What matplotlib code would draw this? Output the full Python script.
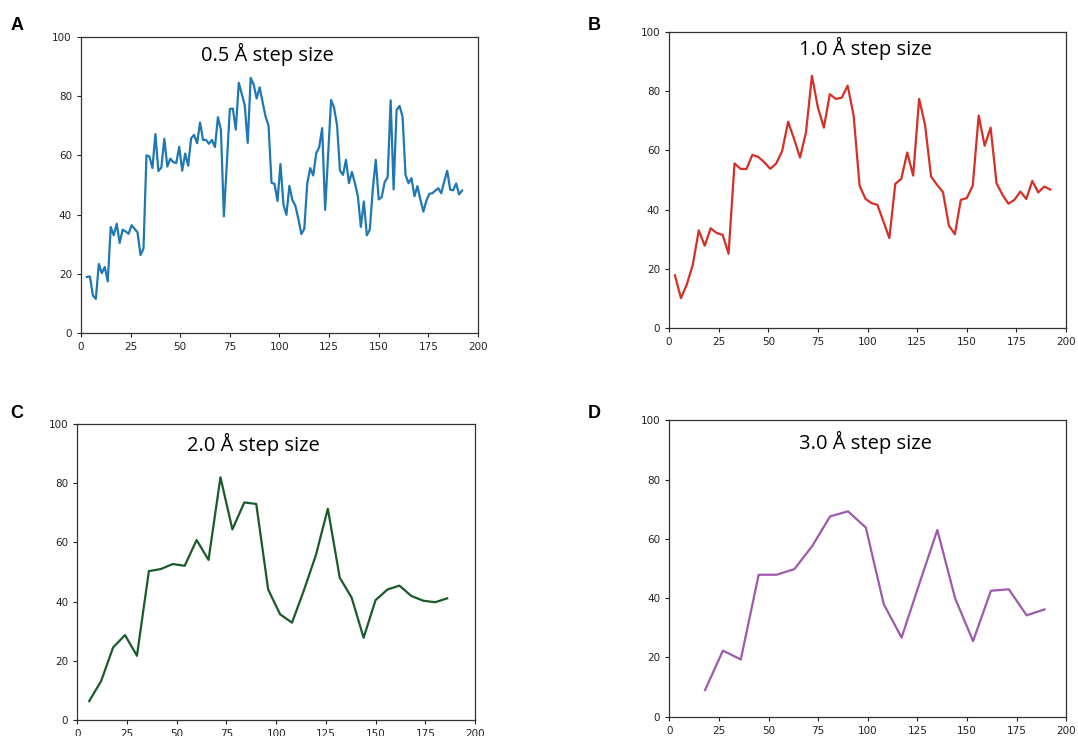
"""
Quatre profils (pas de 0.5, 1.0, 2.0 et 3.0 Å) sur une grille 2x2.
"""
import matplotlib.pyplot as plt
import numpy as np

# pas de 0.5 Å : un point tous les 1.5
x_05 = np.arange(3, 193.5, 1.5)
y_05 = [
    18.9, 19.1, 12.7, 11.5, 23.3, 20.2, 22.3, 17.4, 35.8, 33.0,
    36.9, 30.4, 34.9, 34.3, 33.5, 36.4, 35.2, 34.0, 26.3, 28.5,
    60.0, 59.6, 55.7, 67.2, 54.7, 55.9, 65.6, 56.2, 58.9, 57.7,
    57.4, 62.9, 54.8, 60.6, 56.5, 65.8, 66.9, 64.1, 71.1, 65.2,
    65.2, 63.9, 65.2, 62.8, 72.9, 68.6, 39.4, 57.5, 75.7, 75.8,
    68.7, 84.5, 80.8, 76.9, 64.2, 86.2, 83.9, 79.2, 83.0, 78.0,
    73.1, 70.0, 50.7, 50.4, 44.6, 57.1, 43.4, 39.9, 49.7, 44.9,
    43.0, 38.6, 33.4, 35.2, 50.6, 55.7, 53.2, 60.7, 62.7, 69.2,
    41.6, 60.0, 78.7, 76.1, 70.2, 54.8, 53.4, 58.5, 50.6, 54.4,
    50.6, 46.1, 35.8, 44.4, 33.0, 34.9, 48.5, 58.5, 45.1, 45.9,
    51.0, 52.6, 78.6, 48.5, 75.3, 76.7, 73.0, 53.4, 50.6, 52.3,
    46.2, 49.6, 45.0, 41.0, 44.7, 47.0, 47.2, 48.1, 48.9, 47.2,
    51.2, 54.8, 48.4, 48.2, 50.5, 46.8, 48.1,
]

# pas de 1.0 Å : un point tous les 3
x_10 = np.arange(3, 195, 3)
y_10 = [
    17.8, 10.1, 14.8, 21.4, 33.0, 27.8, 33.7, 32.1, 31.5, 25.1,
    55.6, 53.8, 53.7, 58.5, 57.8, 56.0, 53.8, 55.6, 59.8, 69.7,
    63.9, 57.6, 66.1, 85.2, 74.5, 67.7, 79.0, 77.4, 77.8, 81.9,
    71.8, 48.1, 43.6, 42.2, 41.6, 36.0, 30.4, 48.7, 50.4, 59.3,
    51.5, 77.4, 68.6, 51.2, 48.4, 45.9, 34.6, 31.7, 43.3, 43.9,
    48.1, 71.8, 61.6, 67.7, 48.9, 45.0, 42.0, 43.3, 46.1, 43.6,
    49.7, 45.8, 47.8, 46.8,
]

# pas de 2.0 Å : un point tous les 6
x_20 = np.arange(6, 192, 6)
y_20 = [
    6.4, 13.2, 24.5, 28.7, 21.7, 50.3, 51.0, 52.7, 52.1, 60.8,
    54.1, 82.0, 64.4, 73.5, 73.0, 44.1, 35.7, 32.9, 43.9, 55.7,
    71.4, 48.1, 41.3, 27.8, 40.5, 44.1, 45.4, 41.9, 40.3, 39.8,
    41.1,
]

# pas de 3.0 Å : un point tous les 9
x_30 = np.arange(18, 198, 9)
y_30 = [
    9.0, 22.3, 19.3, 47.9, 47.9, 49.8, 57.6, 67.6, 69.3, 63.8,
    38.0, 26.7, 45.0, 63.0, 39.9, 25.5, 42.5, 43.0, 34.2, 36.2,
]

panels = [
    ("A", "0.5 Å step size", x_05, y_05, "#1f77b4",
     [0.0751, 0.5476, 0.3683, 0.4022], 0.47, 0.94, (17, 25)),
    ("B", "1.0 Å step size", x_10, y_10, "#d62f26",
     [0.6206, 0.5543, 0.3683, 0.4022], 0.496, 0.943, (594, 25)),
    ("C", "2.0 Å step size", x_20, y_20, "#1a5a2c",
     [0.0717, 0.0217, 0.3689, 0.4022], 0.443, 0.93, (17, 414)),
    ("D", "3.0 Å step size", x_30, y_30, "#9e5aab",
     [0.6209, 0.0262, 0.3683, 0.4027], 0.493, 0.925, (594, 414)),
]

W, H = 1078, 736
fig = plt.figure(figsize=(W / 100, H / 100), dpi=100)

for letter, title, x, y, color, rect, tx, ty, (lx, ly) in panels:
    ax = fig.add_axes(rect)
    ax.plot(x, y, color=color, lw=1.6)
    ax.set_xlim(0, 200)
    ax.set_ylim(0, 100)
    ax.set_xticks([0, 25, 50, 75, 100, 125, 150, 175, 200])
    ax.set_yticks([0, 20, 40, 60, 80, 100])
    ax.tick_params(labelsize=7.5, length=3, width=0.8, colors="#222222")
    for spine in ax.spines.values():
        spine.set_color("#333333")
        spine.set_linewidth(0.9)
    ax.text(tx, ty, title, transform=ax.transAxes, ha="center", va="center",
            fontsize=14.5, family="Open Sans", color="black")
    fig.text(lx / W, 1 - ly / H, letter, ha="center", va="center",
             fontsize=13, fontweight="bold", family="Liberation Sans")

fig.savefig("out.png", dpi=100)
